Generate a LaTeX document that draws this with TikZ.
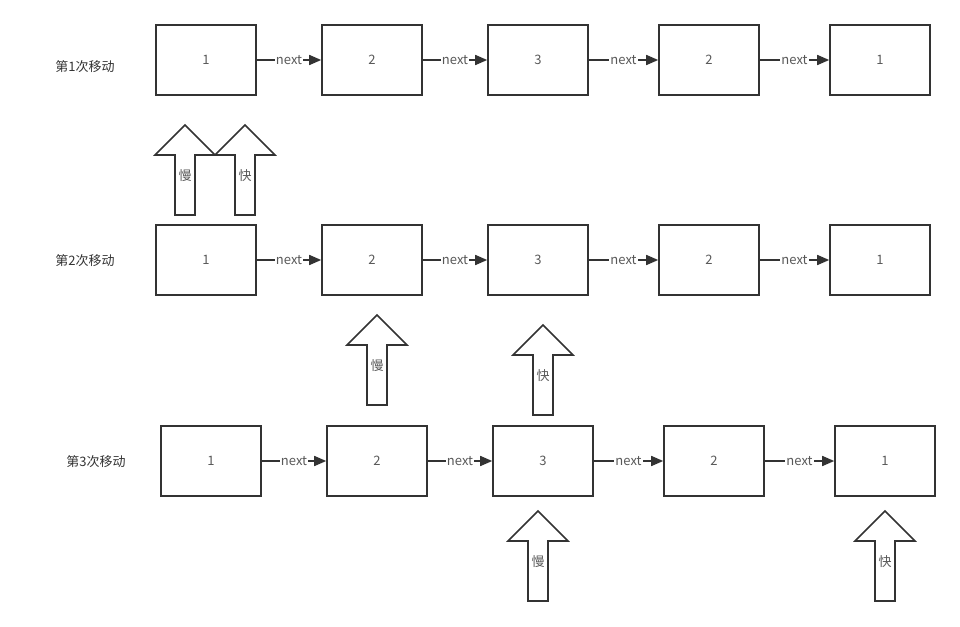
\documentclass[tikz,border=0pt]{standalone}
\usepackage{fontspec}
\setmainfont{Noto Sans CJK SC}
\usetikzlibrary{arrows.meta}

\tikzset{
  listbox/.style={draw=black!80, line width=1.6pt, minimum width=100pt, minimum height=70pt, inner sep=0pt, text=black!65},
  nextline/.style={draw=black!80, line width=1.6pt, -{Triangle[length=12pt,width=10pt]}},
  nexttext/.style={fill=white, inner sep=1pt, text=black!65},
  ptrarrow/.style={draw=black!80, line width=1.6pt, fill=white, line join=miter},
  rowtext/.style={text=black!80},
}

\begin{document}
\begin{tikzpicture}[x=1pt, y=-1pt, font=\fontsize{13}{15}\selectfont]
            \useasboundingbox (0,0) rectangle (960,626);
            % rows of the list
            \foreach \x [count=\i] in {206,372,538,709,880} {
                \node[listbox] (a\i) at (\x,60) {};
                \node[listbox] (b\i) at (\x,260) {};
            }
            \foreach \x [count=\i] in {211,377,543,714,885}
                \node[listbox] (c\i) at (\x,461) {};
            \foreach \r in {a,b,c}
                \foreach \i/\v in {1/1,2/2,3/3,4/2,5/1}
                    \node[text=black!65] at (\r\i) {\v};
            \foreach \r in {a,b,c}
                \foreach \i/\j in {1/2,2/3,3/4,4/5}
                    \draw[nextline] (\r\i) -- node[nexttext] {next} (\r\j);
            % row labels
            \node[rowtext] (l1) at (85,67) {第1次移动};
            \node[rowtext] (l2) at (85,261) {第2次移动};
            \node[rowtext] (l3) at (96,462) {第3次移动};
            % slow and fast pointers
            \foreach \x/\y/\t/\n in {185/125/慢/s1, 245/125/快/f1, 377/315/慢/s2, 543/325/快/f2, 538/511/慢/s3, 885/511/快/f3} {
                \draw[ptrarrow] (\x,\y) -- ++(30,30) -- ++(-20,0) -- ++(0,60) -- ++(-20,0) -- ++(0,-60) -- ++(-20,0) -- cycle;
                \node[text=black!65] (\n) at (\x,\y+51) {\t};
            }
        \end{tikzpicture}
\end{document}
